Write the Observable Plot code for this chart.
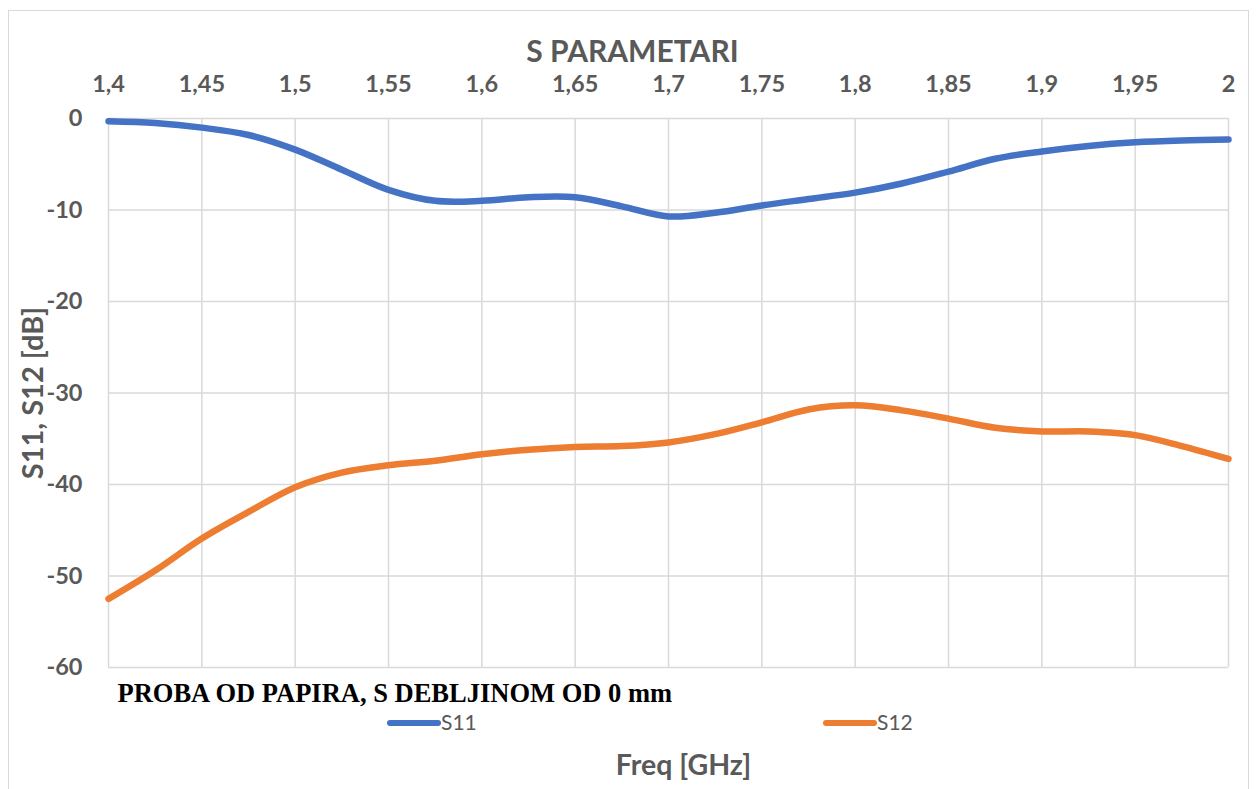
<!DOCTYPE html>
<html>
<head>
<meta charset="utf-8">
<script src="https://cdn.jsdelivr.net/npm/d3@7"></script>
<script src="https://cdn.jsdelivr.net/npm/@observablehq/plot@0.6"></script>
<style>
  html, body { margin: 0; padding: 0; background: #fff; }
  #wrap { position: relative; width: 1257px; height: 789px; overflow: hidden; }
  #frame { position: absolute; left: 8px; top: 10px; width: 1241px; height: 800px; border: 1px solid #d9d9d9; box-sizing: border-box; }
  #chart { position: absolute; left: 0; top: 0; }
</style>
</head>
<body>
<div id="wrap"><div id="frame"></div><div id="chart"></div></div>
<script>
const titleText = "S PARAMETARI";
const xLabel = "Freq [GHz]";
const yLabel = "S11, S12 [dB]";
const noteText = "PROBA OD PAPIRA, S DEBLJINOM OD 0 mm";
const xTicks = [1.4, 1.45, 1.5, 1.55, 1.6, 1.65, 1.7, 1.75, 1.8, 1.85, 1.9, 1.95, 2.0];
const yTicks = [0, -10, -20, -30, -40, -50, -60];
const freq = [1.4, 1.425, 1.45, 1.475, 1.5, 1.525, 1.55, 1.575, 1.6, 1.625, 1.65, 1.675, 1.7,
              1.725, 1.75, 1.775, 1.8, 1.825, 1.85, 1.875, 1.9, 1.925, 1.95, 1.975, 2.0];
const s11 = [-0.3, -0.5, -1.0, -1.8, -3.4, -5.6, -7.8, -9.0, -9.0, -8.6, -8.6, -9.6, -10.7,
             -10.3, -9.5, -8.8, -8.1, -7.1, -5.8, -4.4, -3.6, -3.0, -2.6, -2.4, -2.3];
const s12 = [-52.5, -49.4, -45.9, -43.0, -40.3, -38.7, -37.9, -37.4, -36.7, -36.2, -35.9, -35.8, -35.4,
             -34.5, -33.2, -31.8, -31.35, -31.9, -32.8, -33.8, -34.2, -34.2, -34.6, -35.8, -37.2];
const seriesNames = ["S11", "S12"];
const seriesColors = ["#4472C4", "#ED7D31"];

const rows = [];
freq.forEach((f, i) => {
  rows.push({f, v: s11[i], s: "S11"});
  rows.push({f, v: s12[i], s: "S12"});
});

const fmtX = d => String(+d.toFixed(2)).replace(".", ",");
const fmtY = d => String(d);
const gray = "#595959";

const plot = Plot.plot({
  width: 1257,
  height: 789,
  marginLeft: 108,
  marginRight: 29,
  marginTop: 118,
  marginBottom: 122,
  style: {fontFamily: "Lato, 'Open Sans', sans-serif", fontWeight: "bold", fontSize: "23.5px", color: gray, background: "transparent", overflow: "visible"},
  x: {domain: [1.4, 2.0]},
  y: {domain: [-60, 0]},
  color: {domain: seriesNames, range: seriesColors},
  marks: [
    Plot.ruleY(yTicks, {stroke: "#d9d9d9", strokeWidth: 1.5}),
    Plot.ruleX(xTicks, {stroke: "#d9d9d9", strokeWidth: 1.5}),
    Plot.axisX({anchor: "top", ticks: xTicks, tickSize: 0, tickPadding: 27, tickFormat: fmtX, label: null}),
    Plot.axisY({anchor: "left", ticks: yTicks, tickSize: 0, tickPadding: 26, tickFormat: fmtY, label: null}),
    Plot.line(rows, {x: "f", y: "v", z: "s", stroke: "s", strokeWidth: 6.5, curve: "catmull-rom", strokeLinecap: "round"}),
    Plot.text([titleText], {frameAnchor: "top", lineAnchor: "middle", textAnchor: "middle", dx: -36, dy: -66, fontSize: 30, fontWeight: "bold", fill: gray}),
    Plot.text([yLabel], {frameAnchor: "left", lineAnchor: "middle", textAnchor: "middle", dx: -75, rotate: -90, fontSize: 29, fontWeight: "bold", fill: gray}),
    Plot.text([xLabel], {frameAnchor: "bottom", lineAnchor: "middle", textAnchor: "middle", dx: 15, dy: 98, fontSize: 28.5, fontWeight: "bold", fill: gray}),
    Plot.text([noteText], {frameAnchor: "bottom-left", lineAnchor: "middle", textAnchor: "start", dx: 9, dy: 26, fontSize: 26.5, fontWeight: "bold", fill: "#000", fontFamily: "'Liberation Serif', 'Times New Roman', serif"})
  ]
});
document.getElementById("chart").appendChild(plot);

// legend
const svg = d3.select(plot);
const legendX = [390, 826];
const g = svg.append("g").attr("text-anchor", "start");
seriesNames.forEach((name, i) => {
  g.append("line").attr("x1", legendX[i]).attr("x2", legendX[i] + 48).attr("y1", 723).attr("y2", 723)
    .attr("stroke", seriesColors[i]).attr("stroke-width", 6).attr("stroke-linecap", "round");
  g.append("text").attr("x", legendX[i] + 51).attr("y", 723).attr("dy", "0.35em")
    .attr("text-anchor", "start")
    .attr("font-size", 21).attr("font-weight", "normal").attr("fill", gray).text(name);
});
</script>
</body>
</html>
